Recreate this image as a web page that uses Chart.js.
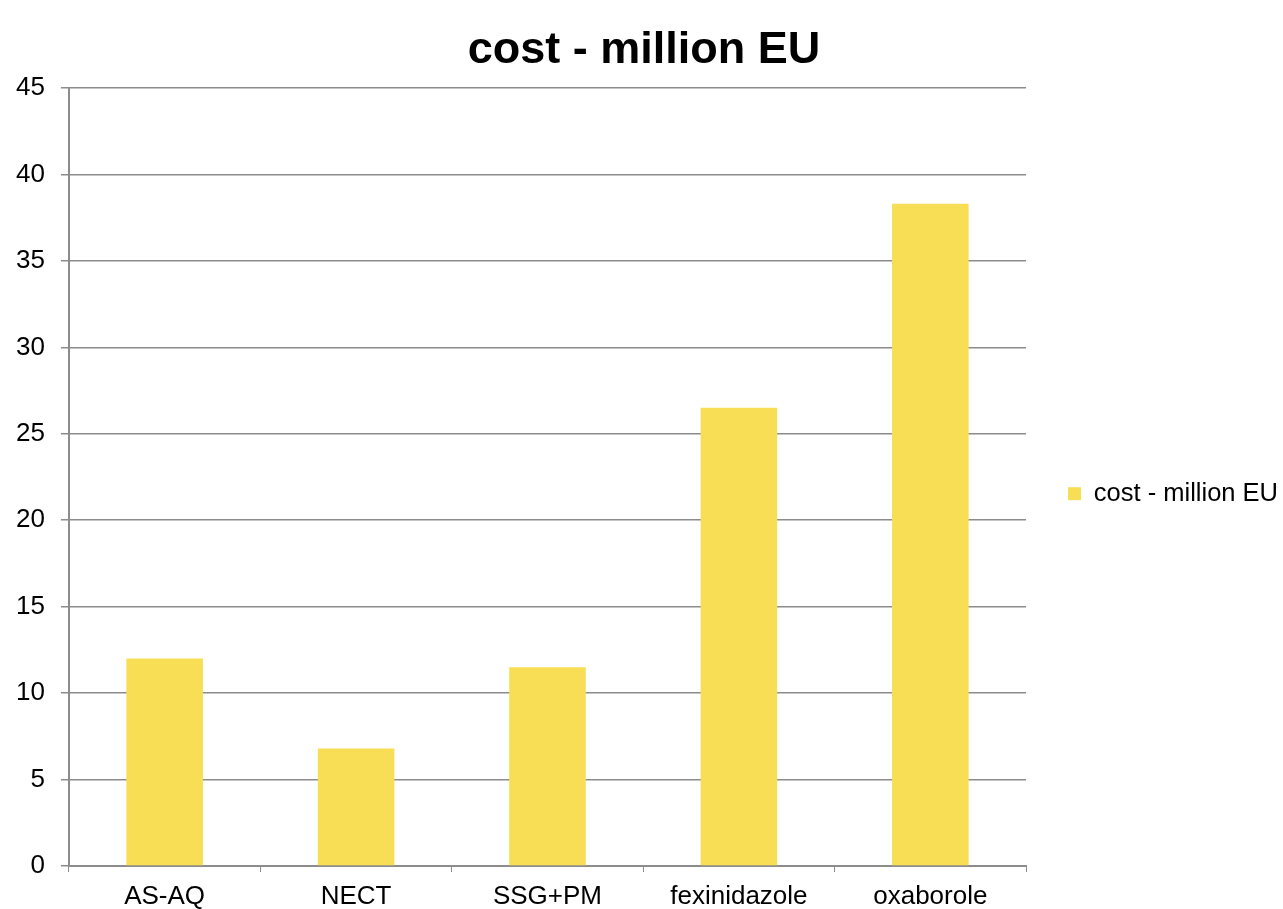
<!DOCTYPE html>
<html>
<head>
<meta charset="utf-8">
<script src="https://cdn.jsdelivr.net/npm/chart.js@4"></script>
<style>
  html, body { margin: 0; padding: 0; background: #ffffff; }
  #wrap { width: 1283px; height: 909px; }
</style>
</head>
<body>
<div id="wrap"><canvas id="costChart" width="1283" height="909"></canvas></div>
<script>
// === Chart data ===
const categories = ["AS-AQ", "NECT", "SSG+PM", "fexinidazole", "oxaborole"];
const costValues = [12.0, 6.8, 11.5, 26.5, 38.3];
const seriesLabel = "cost - million EU";
const titleText = "cost - million EU";

const barColor = "#F8DE55";
const gridColor = "#8c8c8c";
const fontFamily = "'Liberation Sans', Arial, sans-serif";

const ctx = document.getElementById("costChart").getContext("2d");

new Chart(ctx, {
  type: "bar",
  data: {
    labels: categories,
    datasets: [
      {
        label: seriesLabel,
        data: costValues,
        backgroundColor: barColor,
        barPercentage: 0.4,
        categoryPercentage: 1.0,
      },
    ],
  },
  options: {
    responsive: false,
    animation: false,
    // negative padding lets the legend and axis labels sit where the reference puts them
    layout: { padding: { left: 0, right: -5, top: 0, bottom: -12 } },
    scales: {
      x: {
        grid: {
          offset: true,
          drawOnChartArea: false,
          color: gridColor,
          tickLength: 6,
        },
        border: { color: gridColor, width: 2 },
        ticks: {
          color: "#000000",
          font: { family: fontFamily, size: 26, lineHeight: 1.0 },
          padding: 11.5,
        },
      },
      y: {
        min: 0,
        max: 45,
        ticks: {
          stepSize: 5,
          color: "#000000",
          font: { family: fontFamily, size: 26 },
          padding: 16,
        },
        grid: { color: gridColor, tickLength: 8, lineWidth: 1.5 },
        border: { color: gridColor, width: 2 },
      },
    },
    plugins: {
      title: {
        display: true,
        text: titleText,
        color: "#000000",
        font: { family: fontFamily, size: 45, weight: "bold" },
        padding: { top: 24, bottom: 10 },
      },
      legend: {
        position: "right",
        // empty legend title only pushes the entry down a little
        title: { display: true, text: "", padding: 26 },
        labels: {
          color: "#000000",
          font: { family: fontFamily, size: 25.5 },
          boxWidth: 13,
          boxHeight: 13,
          padding: 42,
        },
      },
      tooltip: { enabled: false },
    },
  },
});
</script>
</body>
</html>
